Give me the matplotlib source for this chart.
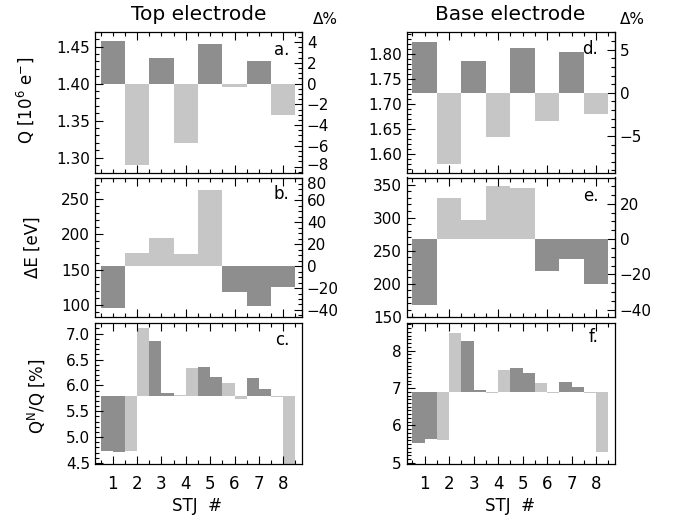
import matplotlib
matplotlib.use('Agg')
import matplotlib.pyplot as plt
from matplotlib.ticker import MultipleLocator, FormatStrFormatter, FixedLocator, FuncFormatter
import matplotlib.transforms as mtransforms
import numpy as np

# ---------------- data ----------------
stj = [1, 2, 3, 4, 5, 6, 7, 8]

top_Q = [1.457, 1.290, 1.435, 1.320, 1.454, 1.3955, 1.430, 1.358]
top_Q_ref = 1.40
top_dE = [95.3, 173.8, 194.0, 172.0, 262.3, 117.9, 98.6, 125.9]
top_dE_ref = 155.0
top_QN_left = [4.735, 4.73, 6.86, 5.82, 6.36, 6.04, 6.15, 5.77]
top_QN_right = [4.716, 7.10, 5.845, 6.33, 6.17, 5.73, 5.93, 4.35]
top_QN_ref = 5.80

base_Q = [1.824, 1.579, 1.785, 1.634, 1.811, 1.666, 1.803, 1.680]
base_Q_ref = 1.722
base_dE = [167.7, 328.9, 296.1, 348.0, 344.0, 219.0, 236.7, 199.4]
base_dE_ref = 267.4
base_QN_left = [5.52, 5.61, 8.26, 6.88, 7.53, 7.14, 7.15, 6.86]
base_QN_right = [5.64, 8.47, 6.96, 7.47, 7.39, 6.87, 7.03, 5.28]
base_QN_ref = 6.89

titles = ["Top electrode", "Base electrode"]
x_ticklabels = ["1", "2", "3", "4", "5", "6", "7", "8"]

DARK = '#8e8e8e'
LIGHT = '#c6c6c6'

plt.rcParams['font.family'] = ['DejaVu Sans']
plt.rcParams['xtick.direction'] = 'in'
plt.rcParams['ytick.direction'] = 'in'

W, H = 673, 518
fig = plt.figure(figsize=(W / 100, H / 100), dpi=100)


def rect(l, r, t, b):
    return [l / W, 1 - b / H, (r - l) / W, (b - t) / H]


cols = [(95, 302), (406.7, 615)]
rows = [(31.7, 172.5), (177.5, 316.7), (323.3, 464.0)]

FS = 11
LFS = 12


def style(ax, xmajor, show_x):
    ax.set_xlim(0.27, 8.77)
    ax.xaxis.set_major_locator(FixedLocator(xmajor))
    ax.xaxis.set_minor_locator(MultipleLocator(0.5))
    ax.tick_params(which='both', top=True, right=False, labelsize=FS, width=0.8)
    ax.tick_params(which='major', length=6)
    ax.tick_params(which='minor', length=3)
    if show_x:
        ax.set_xticks(stj)
        ax.set_xticklabels(x_ticklabels, fontsize=LFS)
        ax.tick_params(axis='x', pad=8)
    else:
        ax.set_xticklabels([])
    for s in ax.spines.values():
        s.set_linewidth(0.9)


def full_bars(ax, vals, ref, pos_dark):
    cl = []
    for v in vals:
        pos = v > ref
        cl.append(DARK if pos == pos_dark else LIGHT)
    ax.bar(stj, np.array(vals) - ref, bottom=ref, width=1.0, color=cl, linewidth=0)


def half_bars(ax, left, right, ref):
    cl = [DARK if s % 2 == 1 else LIGHT for s in stj]
    x = np.array(stj, dtype=float)
    ax.bar(x - 0.25, np.array(left) - ref, bottom=ref, width=0.5, color=cl, linewidth=0)
    ax.bar(x + 0.25, np.array(right) - ref, bottom=ref, width=0.5, color=cl, linewidth=0)


def right_axis(ax, ref, major, minor):
    sec = ax.secondary_yaxis('right', functions=(lambda v: (v / ref - 1) * 100,
                                                  lambda p: ref * (1 + p / 100)))
    lo, hi = [(v / ref - 1) * 100 for v in ax.get_ylim()]
    majors = np.arange(np.ceil(lo / major) * major, hi + 1e-9, major)
    minors = np.arange(np.ceil(lo / minor) * minor, hi + 1e-9, minor)
    sec.yaxis.set_major_locator(FixedLocator(majors))
    sec.yaxis.set_minor_locator(FixedLocator(minors))
    sec.tick_params(which='both', direction='in', labelsize=FS, width=0.8)
    sec.tick_params(which='major', length=6)
    sec.tick_params(which='minor', length=3)
    sec.yaxis.set_major_formatter(FuncFormatter(
        lambda v, p: ('%d' % round(v)).replace('-', '\u2212')))
    return sec


# ---------- Top electrode ----------
l, r = cols[0]
axa = fig.add_axes(rect(l, r, *rows[0]))
full_bars(axa, top_Q, top_Q_ref, pos_dark=True)
axa.set_ylim(1.28, 1.47)
axa.yaxis.set_major_locator(MultipleLocator(0.05))
axa.yaxis.set_minor_locator(MultipleLocator(0.01))
axa.yaxis.set_major_formatter(FormatStrFormatter('%.2f'))
style(axa, [2, 4, 6, 8], False)
seca = right_axis(axa, top_Q_ref, 2, 0.5)
axa.text(0.94, 0.87, 'a.', transform=axa.transAxes, ha='right', va='center', fontsize=LFS)

axb = fig.add_axes(rect(l, r, *rows[1]))
full_bars(axb, top_dE, top_dE_ref, pos_dark=False)
axb.set_ylim(83.5, 280.1)
axb.yaxis.set_major_locator(MultipleLocator(50))
axb.yaxis.set_minor_locator(MultipleLocator(10))
style(axb, [2, 4, 6, 8], False)
secb = right_axis(axb, top_dE_ref, 20, 5)
axb.text(0.94, 0.885, 'b.', transform=axb.transAxes, ha='right', va='center', fontsize=LFS)

axc = fig.add_axes(rect(l, r, *rows[2]))
half_bars(axc, top_QN_left, top_QN_right, top_QN_ref)
axc.set_ylim(4.48, 7.2)
axc.yaxis.set_major_locator(MultipleLocator(0.5))
axc.yaxis.set_minor_locator(MultipleLocator(0.1))
axc.yaxis.set_major_formatter(FormatStrFormatter('%.1f'))
style(axc, stj, True)
axc.text(0.94, 0.88, 'c.', transform=axc.transAxes, ha='right', va='center', fontsize=LFS)

# ---------- Base electrode ----------
l, r = cols[1]
axd = fig.add_axes(rect(l, r, *rows[0]))
full_bars(axd, base_Q, base_Q_ref, pos_dark=True)
axd.set_ylim(1.563, 1.844)
axd.yaxis.set_major_locator(MultipleLocator(0.05))
axd.yaxis.set_minor_locator(MultipleLocator(0.01))
axd.yaxis.set_major_formatter(FormatStrFormatter('%.2f'))
style(axd, [2, 4, 6, 8], False)
right_axis(axd, base_Q_ref, 5, 1)
axd.text(0.92, 0.88, 'd.', transform=axd.transAxes, ha='right', va='center', fontsize=LFS)

axe = fig.add_axes(rect(l, r, *rows[1]))
full_bars(axe, base_dE, base_dE_ref, pos_dark=False)
axe.set_ylim(150, 360.6)
axe.yaxis.set_major_locator(MultipleLocator(50))
axe.yaxis.set_minor_locator(MultipleLocator(10))
style(axe, [2, 4, 6, 8], False)
right_axis(axe, base_dE_ref, 20, 5)
axe.text(0.92, 0.87, 'e.', transform=axe.transAxes, ha='right', va='center', fontsize=LFS)

axf = fig.add_axes(rect(l, r, *rows[2]))
half_bars(axf, base_QN_left, base_QN_right, base_QN_ref)
axf.set_ylim(4.97, 8.73)
axf.yaxis.set_major_locator(MultipleLocator(1))
axf.yaxis.set_minor_locator(MultipleLocator(0.1))
axf.yaxis.set_major_formatter(FormatStrFormatter('%d'))
style(axf, stj, True)
axf.text(0.92, 0.9, 'f.', transform=axf.transAxes, ha='right', va='center', fontsize=LFS)

# ---------- text ----------
fig.text(198.5 / W, 1 - 14 / H, titles[0], ha='center', va='center', fontsize=14.5)
fig.text(510 / W, 1 - 14 / H, titles[1], ha='center', va='center', fontsize=14.5)
fig.text(325 / W, 1 - 19 / H, '\u0394%', ha='center', va='center', fontsize=11)
fig.text(632 / W, 1 - 19 / H, '\u0394%', ha='center', va='center', fontsize=11)

fig.text(25 / W, 1 - 100 / H, 'Q [10$^6$ e$^{-}$]', rotation=90, ha='center', va='center', fontsize=LFS)
fig.text(33 / W, 1 - 247 / H, '\u0394E [eV]', rotation=90, ha='center', va='center', fontsize=LFS)
fig.text(36 / W, 1 - 396 / H, 'Q$^{\\rm N}$/Q [%]', rotation=90, ha='center', va='center', fontsize=LFS)

fig.text(197 / W, 1 - 506 / H, 'STJ  #', ha='center', va='center', fontsize=LFS)
fig.text(510 / W, 1 - 506 / H, 'STJ  #', ha='center', va='center', fontsize=LFS)

# nudge edge labels inward (as in the reference) to avoid collisions
fig.canvas.draw()
down = mtransforms.ScaledTranslation(0, -5 / 100, fig.dpi_scale_trans)
up = mtransforms.ScaledTranslation(0, 3 / 100, fig.dpi_scale_trans)
for t in secb.yaxis.get_major_ticks():
    if abs(t.get_loc() - 80) < 1e-6:
        t.label2.set_transform(t.label2.get_transform() + down)
for t in seca.yaxis.get_major_ticks():
    if abs(t.get_loc() + 8) < 1e-6:
        t.label2.set_transform(t.label2.get_transform() + up)

fig.savefig('out.png', dpi=100)
